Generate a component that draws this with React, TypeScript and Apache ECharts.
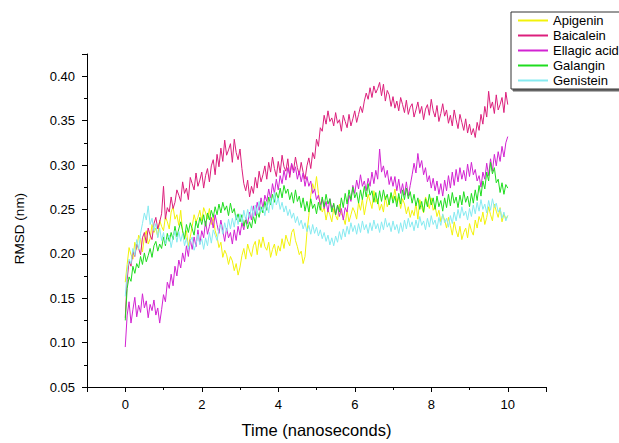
import React, { useEffect, useRef } from "react";
import * as echarts from "echarts";

const TIME_STEP = 0.05; // ns between samples

const apigenin = [
  0.168, 0.188, 0.207, 0.199, 0.194, 0.213, 0.205, 0.221, 0.216, 0.202,
  0.219, 0.226, 0.211, 0.217, 0.233, 0.224, 0.229, 0.219, 0.238, 0.231,
  0.226, 0.242, 0.236, 0.228, 0.247, 0.253, 0.239, 0.244, 0.232, 0.249,
  0.224, 0.216, 0.226, 0.208, 0.219, 0.231, 0.244, 0.236, 0.241, 0.249,
  0.237, 0.252, 0.246, 0.239, 0.251, 0.233, 0.241, 0.226, 0.219, 0.207,
  0.213, 0.196, 0.204, 0.199, 0.188, 0.197, 0.192, 0.181, 0.189, 0.176,
  0.185, 0.198, 0.206, 0.194, 0.211, 0.203, 0.197, 0.209, 0.214, 0.199,
  0.216, 0.207, 0.219, 0.208, 0.204, 0.213, 0.196, 0.205, 0.211, 0.198,
  0.209, 0.203, 0.217, 0.206, 0.221, 0.214, 0.209, 0.224, 0.228, 0.215,
  0.208, 0.199, 0.203, 0.189, 0.197, 0.224, 0.243, 0.266, 0.279, 0.271,
  0.287, 0.268, 0.255, 0.247, 0.252, 0.238, 0.249, 0.244, 0.236, 0.251,
  0.243, 0.238, 0.256, 0.245, 0.241, 0.233, 0.249, 0.236, 0.244, 0.252,
  0.247, 0.239, 0.258, 0.249, 0.262, 0.244, 0.256, 0.267, 0.259, 0.251,
  0.271, 0.258, 0.262, 0.249, 0.256, 0.247, 0.265, 0.253, 0.259, 0.268,
  0.261, 0.273, 0.258, 0.264, 0.251, 0.262, 0.256, 0.245, 0.253, 0.241,
  0.249, 0.243, 0.257, 0.239, 0.261, 0.252, 0.246, 0.264, 0.258, 0.251,
  0.263, 0.249, 0.254, 0.242, 0.249, 0.236, 0.244, 0.238, 0.229, 0.241,
  0.232, 0.221, 0.236, 0.226, 0.219, 0.231, 0.216, 0.224, 0.229, 0.218,
  0.234, 0.226, 0.221, 0.238, 0.229, 0.242, 0.236, 0.247, 0.233, 0.241,
  0.253, 0.244, 0.237, 0.256, 0.248, 0.241, 0.252, 0.236, 0.245, 0.239,
  0.243,
];

const baicalein = [
  0.128, 0.171, 0.192, 0.186, 0.203, 0.197, 0.211, 0.206, 0.199, 0.218,
  0.224, 0.212, 0.229, 0.221, 0.216, 0.234, 0.241, 0.228, 0.236, 0.245,
  0.276, 0.239, 0.252, 0.247, 0.264, 0.251, 0.258, 0.272, 0.266, 0.259,
  0.281, 0.268, 0.274, 0.261, 0.286, 0.279, 0.272, 0.291, 0.276, 0.283,
  0.292, 0.274, 0.288, 0.296, 0.281, 0.299, 0.306, 0.289, 0.312, 0.298,
  0.319, 0.304, 0.328, 0.311, 0.317, 0.324, 0.303, 0.329, 0.314, 0.306,
  0.318, 0.296, 0.279, 0.271, 0.283, 0.264, 0.276, 0.268, 0.286, 0.274,
  0.293, 0.281, 0.289, 0.299, 0.284, 0.303, 0.292, 0.309, 0.296, 0.287,
  0.304, 0.291, 0.311, 0.298, 0.293, 0.307, 0.286, 0.301, 0.294, 0.309,
  0.297, 0.289, 0.303, 0.292, 0.284, 0.299, 0.308, 0.296, 0.314, 0.307,
  0.329, 0.321, 0.342, 0.338, 0.356, 0.346, 0.361, 0.349, 0.353, 0.344,
  0.359, 0.347, 0.351, 0.338, 0.356, 0.349, 0.342, 0.357, 0.344, 0.352,
  0.361, 0.348, 0.357, 0.366, 0.359, 0.372, 0.381, 0.374, 0.387, 0.376,
  0.389, 0.381, 0.386, 0.393, 0.378, 0.391, 0.372, 0.384, 0.379, 0.366,
  0.377, 0.364, 0.372, 0.361, 0.376, 0.368, 0.359, 0.373, 0.357, 0.365,
  0.369, 0.354, 0.362, 0.371, 0.358, 0.366, 0.351, 0.363, 0.368, 0.356,
  0.374, 0.361, 0.354, 0.367, 0.349, 0.358, 0.369, 0.355, 0.362, 0.347,
  0.356, 0.344, 0.362, 0.351, 0.341, 0.357, 0.348, 0.339, 0.352, 0.336,
  0.346, 0.334, 0.341, 0.331, 0.348, 0.339, 0.357, 0.346, 0.366, 0.354,
  0.383, 0.364, 0.371, 0.358, 0.379, 0.362, 0.368, 0.376, 0.359, 0.382,
  0.368,
];

const ellagicAcid = [
  0.095, 0.131, 0.146, 0.122, 0.137, 0.151, 0.129, 0.142, 0.134, 0.155,
  0.139, 0.147, 0.128, 0.143, 0.136, 0.148, 0.131, 0.139, 0.122, 0.137,
  0.154, 0.146, 0.168, 0.161, 0.177, 0.164, 0.186, 0.175, 0.193, 0.184,
  0.201, 0.191, 0.209, 0.197, 0.216, 0.205, 0.219, 0.208, 0.227, 0.211,
  0.226, 0.218, 0.237, 0.222, 0.231, 0.241, 0.229, 0.244, 0.233, 0.223,
  0.238, 0.226, 0.214, 0.229, 0.218, 0.224, 0.211, 0.227, 0.215, 0.231,
  0.221, 0.235, 0.227, 0.241, 0.234, 0.247, 0.238, 0.254, 0.243, 0.258,
  0.249, 0.263, 0.251, 0.266, 0.259, 0.273, 0.262, 0.279, 0.268, 0.284,
  0.272, 0.288, 0.279, 0.294, 0.283, 0.297, 0.289, 0.302, 0.291, 0.298,
  0.284, 0.293, 0.281, 0.291, 0.276, 0.287, 0.276, 0.282, 0.268, 0.273,
  0.261, 0.266, 0.255, 0.262, 0.251, 0.259, 0.247, 0.262, 0.251, 0.256,
  0.244, 0.254, 0.242, 0.251, 0.238, 0.252, 0.247, 0.266, 0.259, 0.277,
  0.268, 0.283, 0.273, 0.289, 0.276, 0.282, 0.271, 0.285, 0.276, 0.292,
  0.279, 0.294, 0.284, 0.318, 0.292, 0.299, 0.286, 0.294, 0.278, 0.287,
  0.276, 0.287, 0.271, 0.284, 0.268, 0.279, 0.266, 0.281, 0.265, 0.277,
  0.289, 0.302, 0.291, 0.313, 0.297, 0.305, 0.289, 0.297, 0.281, 0.288,
  0.274, 0.285, 0.271, 0.282, 0.267, 0.279, 0.265, 0.283, 0.271, 0.288,
  0.274, 0.292, 0.277, 0.295, 0.281, 0.297, 0.284, 0.294, 0.282, 0.301,
  0.287, 0.303, 0.289, 0.295, 0.282, 0.288, 0.275, 0.292, 0.284, 0.302,
  0.288, 0.307, 0.293, 0.312, 0.299, 0.315, 0.304, 0.321, 0.309, 0.325,
  0.332,
];

const galangin = [
  0.125, 0.161, 0.174, 0.169, 0.186, 0.178, 0.189, 0.184, 0.197, 0.188,
  0.201, 0.191, 0.198, 0.206, 0.196, 0.209, 0.214, 0.203, 0.211, 0.206,
  0.219, 0.209, 0.223, 0.214, 0.224, 0.216, 0.231, 0.219, 0.228, 0.236,
  0.226, 0.217, 0.233, 0.224, 0.235, 0.228, 0.221, 0.237, 0.229, 0.241,
  0.233, 0.244, 0.231, 0.246, 0.238, 0.249, 0.241, 0.253, 0.244, 0.256,
  0.246, 0.258, 0.249, 0.254, 0.243, 0.257, 0.246, 0.251, 0.238, 0.245,
  0.236, 0.244, 0.231, 0.239, 0.228, 0.236, 0.229, 0.243, 0.234, 0.248,
  0.241, 0.253, 0.246, 0.259, 0.249, 0.264, 0.255, 0.267, 0.258, 0.269,
  0.262, 0.274, 0.263, 0.277, 0.268, 0.273, 0.261, 0.269, 0.257, 0.272,
  0.259, 0.265, 0.252, 0.263, 0.248, 0.259, 0.247, 0.262, 0.251, 0.256,
  0.245, 0.258, 0.249, 0.264, 0.253, 0.267, 0.256, 0.262, 0.247, 0.257,
  0.244, 0.255, 0.247, 0.263, 0.252, 0.268, 0.256, 0.272, 0.261, 0.275,
  0.263, 0.269, 0.257, 0.272, 0.261, 0.276, 0.264, 0.279, 0.266, 0.271,
  0.258, 0.269, 0.256, 0.271, 0.259, 0.272, 0.261, 0.267, 0.255, 0.269,
  0.257, 0.265, 0.253, 0.268, 0.256, 0.272, 0.261, 0.274, 0.262, 0.270,
  0.257, 0.267, 0.254, 0.263, 0.250, 0.259, 0.247, 0.262, 0.253, 0.267,
  0.255, 0.263, 0.250, 0.265, 0.253, 0.260, 0.248, 0.263, 0.252, 0.267,
  0.254, 0.269, 0.257, 0.264, 0.252, 0.266, 0.255, 0.270, 0.258, 0.265,
  0.253, 0.268, 0.257, 0.272, 0.260, 0.277, 0.265, 0.282, 0.273, 0.292,
  0.282, 0.303, 0.290, 0.297, 0.280, 0.284, 0.269, 0.280, 0.267, 0.278,
  0.274,
];

const genistein = [
  0.152, 0.181, 0.194, 0.189, 0.206, 0.198, 0.216, 0.205, 0.223, 0.234,
  0.246, 0.238, 0.254, 0.233, 0.240, 0.226, 0.234, 0.218, 0.229, 0.215,
  0.224, 0.211, 0.217, 0.221, 0.207, 0.219, 0.226, 0.213, 0.225, 0.214,
  0.223, 0.209, 0.218, 0.205, 0.214, 0.219, 0.204, 0.211, 0.222, 0.210,
  0.217, 0.205, 0.218, 0.209, 0.224, 0.212, 0.227, 0.221, 0.215, 0.228,
  0.233, 0.222, 0.235, 0.225, 0.239, 0.228, 0.240, 0.230, 0.244, 0.233,
  0.245, 0.235, 0.249, 0.238, 0.250, 0.240, 0.254, 0.242, 0.255, 0.245,
  0.259, 0.247, 0.253, 0.243, 0.258, 0.246, 0.263, 0.250, 0.269, 0.255,
  0.263, 0.250, 0.258, 0.247, 0.254, 0.243, 0.250, 0.240, 0.246, 0.235,
  0.242, 0.232, 0.238, 0.228, 0.235, 0.225, 0.232, 0.222, 0.233, 0.223,
  0.230, 0.220, 0.227, 0.217, 0.224, 0.214, 0.221, 0.210, 0.218, 0.209,
  0.220, 0.213, 0.225, 0.216, 0.228, 0.219, 0.231, 0.222, 0.235, 0.225,
  0.232, 0.222, 0.234, 0.224, 0.237, 0.227, 0.233, 0.223, 0.235, 0.226,
  0.238, 0.228, 0.234, 0.224, 0.236, 0.227, 0.240, 0.230, 0.235, 0.225,
  0.237, 0.227, 0.233, 0.223, 0.235, 0.225, 0.238, 0.228, 0.240, 0.230,
  0.236, 0.226, 0.238, 0.229, 0.242, 0.232, 0.237, 0.227, 0.240, 0.230,
  0.243, 0.233, 0.238, 0.228, 0.241, 0.232, 0.245, 0.235, 0.240, 0.230,
  0.243, 0.234, 0.247, 0.237, 0.250, 0.240, 0.253, 0.243, 0.248, 0.238,
  0.251, 0.242, 0.255, 0.245, 0.258, 0.248, 0.261, 0.250, 0.256, 0.246,
  0.260, 0.249, 0.262, 0.252, 0.257, 0.247, 0.251, 0.240, 0.247, 0.237,
  0.243,
];

const seriesNames = ["Apigenin", "Baicalein", "Ellagic acid", "Galangin", "Genistein"];
const seriesValues = [apigenin, baicalein, ellagicAcid, galangin, genistein];
const seriesColors = ["#f2f20a", "#dc1f7c", "#d223d2", "#1fdc1f", "#86eaf0"];

const FONT = "'Liberation Sans', Arial, sans-serif";

export default function App() {
  const ref = useRef<HTMLDivElement>(null);

  useEffect(() => {
    document.body.style.margin = "0";
    if (!ref.current) return;
    const chart = echarts.init(ref.current, null, { renderer: "svg" });
    chart.setOption({
      animation: false,
      backgroundColor: "#ffffff",
      textStyle: { fontFamily: FONT },
      grid: { left: 87, right: 73, top: 54, bottom: 52, containLabel: false },
      legend: {
        orient: "vertical",
        left: 511,
        top: 12,
        padding: [2, 40, 2, 7],
        icon: "rect",
        itemWidth: 30,
        itemHeight: 2,
        itemGap: 2,
        itemStyle: { borderWidth: 0 },
        borderColor: "#333333",
        borderWidth: 1,
        backgroundColor: "#ffffff",
        shadowColor: "#666666",
        shadowOffsetX: 2,
        shadowOffsetY: 2,
        shadowBlur: 0,
        textStyle: { fontFamily: FONT, fontSize: 13, lineHeight: 13, color: "#000000" },
        data: seriesNames,
      },
      xAxis: {
        type: "value",
        min: -1,
        max: 11,
        splitNumber: 6,
        minInterval: 2,
        maxInterval: 2,
        name: "Time (nanoseconds)",
        nameLocation: "middle",
        nameGap: 34,
        nameTextStyle: { fontFamily: FONT, fontSize: 16.5, color: "#000000" },
        axisLine: { show: true, onZero: false, lineStyle: { color: "#000000", width: 1 } },
        axisTick: { show: true, inside: false, length: 5, lineStyle: { color: "#000000" } },
        minorTick: { show: true, splitNumber: 2, length: 3, lineStyle: { color: "#000000" } },
        axisLabel: {
          margin: 11,
          fontFamily: FONT,
          fontSize: 13,
          color: "#000000",
          formatter: (v: number) => (v >= 0 && v <= 10 && v % 2 === 0 ? String(v) : ""),
        },
        splitLine: { show: false },
      },
      yAxis: {
        type: "value",
        min: 0.05,
        max: 0.425,
        interval: 0.05,
        name: "RMSD (nm)",
        nameLocation: "middle",
        nameGap: 61,
        nameRotate: 90,
        nameTextStyle: { fontFamily: FONT, fontSize: 13.5, color: "#000000", padding: [0, 16, 0, 0] },
        axisLine: { show: true, onZero: false, lineStyle: { color: "#000000", width: 1 } },
        axisTick: { show: true, inside: false, length: 5, lineStyle: { color: "#000000" } },
        minorTick: { show: true, splitNumber: 2, length: 3, lineStyle: { color: "#000000" } },
        axisLabel: {
          margin: 12,
          fontFamily: FONT,
          fontSize: 13,
          color: "#000000",
          formatter: (v: number) => (v <= 0.4001 ? v.toFixed(2) : ""),
        },
        splitLine: { show: false },
      },
      series: seriesNames.map((name, si) => ({
        name,
        type: "line",
        symbol: "none",
        showSymbol: false,
        color: seriesColors[si],
        itemStyle: { color: seriesColors[si], borderWidth: 0 },
        lineStyle: { color: seriesColors[si], width: 1 },
        data: seriesValues[si].map((v, i) => [i * TIME_STEP, v]),
      })),
    });
    return () => chart.dispose();
  }, []);

  return <div ref={ref} style={{ width: 619, height: 443 }} />;
}
